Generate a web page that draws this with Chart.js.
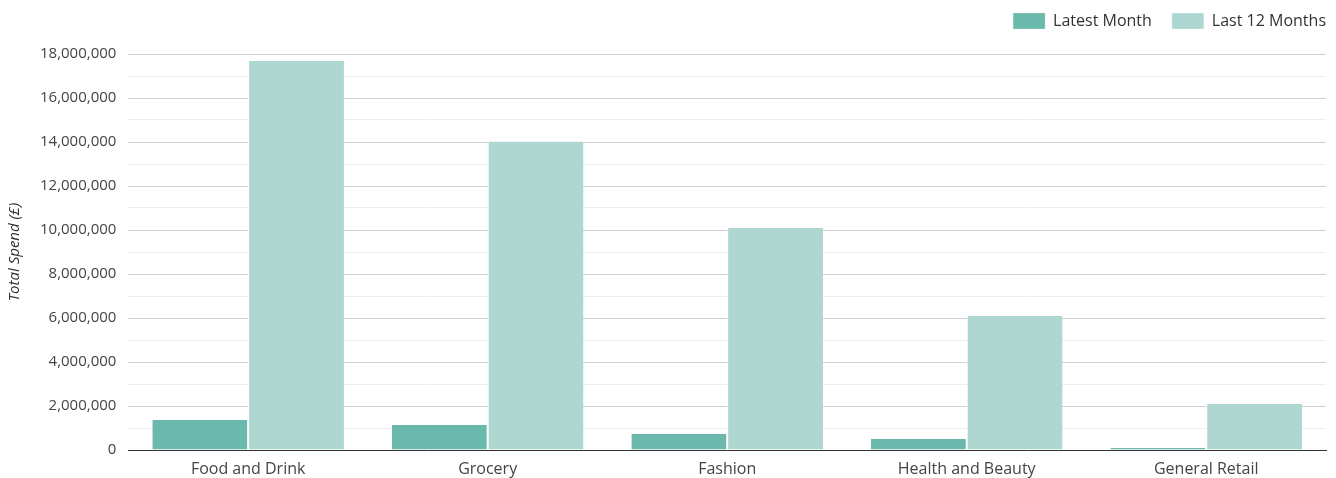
<!DOCTYPE html>
<html>
<head>
<meta charset="utf-8">
<script src="https://cdn.jsdelivr.net/npm/chart.js@4/dist/chart.umd.min.js"></script>
<style>
  html, body { margin: 0; padding: 0; background: #fff; }
  #wrap { width: 1336px; height: 478px; }
</style>
</head>
<body>
<div id="wrap"><canvas id="chart-spend"></canvas></div>
<script>
var categories = ["Food and Drink", "Grocery", "Fashion", "Health and Beauty", "General Retail"];
var latestMonth = [1360000, 1140000, 730000, 500000, 90000];
var last12Months = [17680000, 14020000, 10100000, 6100000, 2100000];

// extra room under the legend, and push it to the right edge
var legendGap = {
    id: "legendGap",
    beforeInit: function (chart) {
        var fit = chart.legend.fit;
        chart.legend.fit = function () {
            fit.bind(chart.legend)();
            this.height += 8;
        };
    },
    afterLayout: function (chart) {
        chart.legend.left += 20;
        chart.legend.right += 20;
        chart.legend.top -= 7;
    }
};

var ctx = document.getElementById("chart-spend").getContext("2d");
var spendChart = new Chart(ctx, {
    type: "bar",
    data: {
        labels: categories,
        datasets: [{
            label: "Latest Month",
            backgroundColor: "#6bb8ad",
            borderColor: "#ffffff",
            borderWidth: { right: 1, left: 0, top: 0 },
            data: latestMonth
        }, {
            label: "Last 12 Months",
            backgroundColor: "#aed7d2",
            borderColor: "#ffffff",
            borderWidth: { left: 1, right: 0, top: 0 },
            data: last12Months
        }]
    },
    options: {
        responsive: true,
        maintainAspectRatio: false,
        animation: false,
        layout: { padding: { left: 2, right: 10, top: 0, bottom: 0 } },
        datasets: { bar: { categoryPercentage: 0.8, barPercentage: 1.0 } },
        plugins: {
            legend: {
                position: "top",
                align: "end",
                labels: {
                    boxWidth: 32,
                    boxHeight: 16,
                    padding: 20,
                    color: "#333",
                    font: { family: "'Open Sans'", size: 16 }
                }
            },
            tooltip: { enabled: false }
        },
        scales: {
            x: {
                grid: { display: false, drawTicks: false },
                border: { color: "#333", width: 1 },
                ticks: { color: "#444", font: { family: "'Open Sans'", size: 16, lineHeight: 1 }, padding: 11 },
                afterFit: function (scale) {
                    scale.height -= 10;
                }
            },
            y: {
                min: 0,
                max: 18000000,
                ticks: {
                    stepSize: 1000000,
                    color: "#444",
                    padding: 12,
                    font: { family: "'Open Sans'", size: 15 },
                    callback: function (v) {
                        if (v % 2000000 !== 0) return "";
                        return v.toLocaleString("en-GB");
                    }
                },
                grid: {
                    drawTicks: false,
                    color: function (c) {
                        if (c.tick && c.tick.value % 2000000 !== 0) return "#eeeeee";
                        return "#d0d0d0";
                    }
                },
                border: { display: false },
                title: {
                    display: true,
                    text: "Total Spend (£)",
                    color: "#333",
                    font: { family: "'Open Sans'", size: 15, style: "italic" },
                    padding: { bottom: 4 }
                }
            }
        }
    },
    plugins: [legendGap]
});
</script>
</body>
</html>
